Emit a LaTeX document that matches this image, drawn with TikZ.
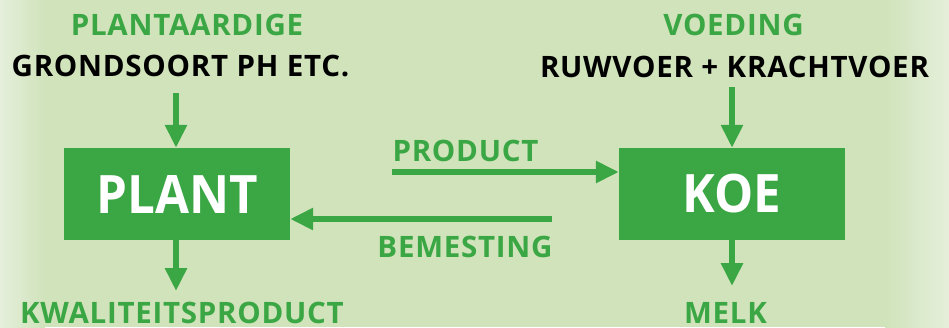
\documentclass[tikz,border=0pt]{standalone}
\usepackage{fontspec}
\setmainfont{Open Sans}
\newfontfamily\spaced{Open Sans}[LetterSpace=2.5]
\usetikzlibrary{arrows.meta}
\definecolor{leaf}{RGB}{58,167,68}
\definecolor{meadow}{RGB}{208,227,187}
\definecolor{haze}{RGB}{229,239,219}
\newcommand{\narrow}[1]{\scalebox{0.93}[1]{#1}}
\tikzset{
  box/.style={fill=leaf, minimum width=226pt, minimum height=92pt, inner sep=0pt,
              text=white, font=\fontsize{53}{53}\selectfont\bfseries},
  lbl/.style={text=leaf, anchor=base, inner sep=0pt, font=\spaced\fontsize{29.5}{29.5}\selectfont\bfseries},
  src/.style={lbl, text=black},
  flow/.style={leaf, line width=6pt, -{Triangle[length=23pt,width=21pt]}},
}
\begin{document}
\begin{tikzpicture}[x=1pt,y=-1pt]
  % backdrop with lighter side edges
  \fill[meadow] (0,0) rectangle (949,327);
  \shade[left color=haze, right color=meadow] (0,0) rectangle (45,327);
  \shade[left color=meadow, right color=haze] (885,0) rectangle (949,327);
  \useasboundingbox (0,0) rectangle (949,327);

  % the two actors
  \node[box] (plant) at (177,194) {\narrow{PLANT}};
  \node[box] (koe) at (732,194) {\narrow{KOE}};

  % labels
  \node[lbl] (plantaardig) at (187,35) {PLANTAARDIGE};
  \node[src] (grond) at (180.5,76) {GRONDSOORT PH ETC.};
  \node[lbl] (voeding) at (733.5,35) {VOEDING};
  \node[src] (voer) at (734.5,77) {RUWVOER + KRACHTVOER};
  \node[lbl] (product) at (465.5,161) {PRODUCT};
  \node[lbl] (bemesting) at (465,257) {BEMESTING};
  \node[lbl] (kwaliteit) at (182,323) {KWALITEITSPRODUCT};
  \node[lbl] (melk) at (725.5,323) {MELK};

  % arrow ends
  \coordinate (plantin) at (176,93);
  \coordinate (plantout) at (176,291);
  \coordinate (koein) at (732,87);
  \coordinate (koeout) at (732,286);
  \coordinate (prodstart) at (392,172);
  \coordinate (bemstart) at (552,219);

  \draw[flow] (plantin) -- (plantin |- plant.north);
  \draw[flow] (plantin |- plant.south) -- (plantout);
  \draw[flow] (koein) -- (koein |- koe.north);
  \draw[flow] (koein |- koe.south) -- (koeout);
  \draw[flow] (prodstart) -- (prodstart -| koe.west);
  \draw[flow] (bemstart) -- (bemstart -| plant.east);
\end{tikzpicture}
\end{document}
